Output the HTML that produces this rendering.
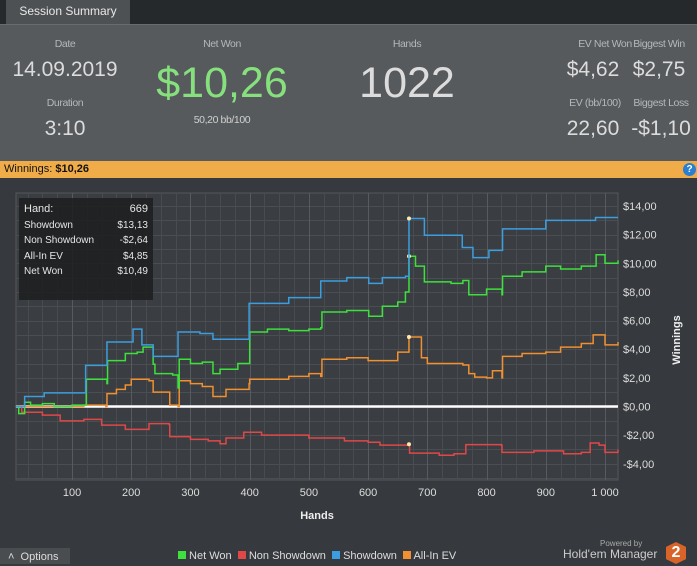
<!DOCTYPE html>
<html><head><meta charset="utf-8">
<style>
*{margin:0;padding:0;box-sizing:border-box}
body{width:697px;height:564px;overflow:hidden;background:#36393d;font-family:"Liberation Sans",sans-serif;position:relative}
.abs{position:absolute}
.lbl{color:#b5b7b9;font-size:10.5px;text-align:center;letter-spacing:-0.4px;white-space:nowrap}
.big{color:#dcdcdc;font-size:21px;text-align:center;white-space:nowrap}
</style></head><body>
<div class="abs" style="left:0;top:0;width:697px;height:24px;background:#26292c"></div>
<div class="abs" style="left:6px;top:0;width:124px;height:24px;background:#4e5154;color:#e8e8e8;font-size:12px;line-height:22px;text-align:center">Session Summary</div>
<div class="abs" style="left:0;top:24px;width:697px;height:137px;background:#575a5d;border-top:1px solid #6a6d70"></div>
<div class="abs lbl" style="left:15px;top:38px;width:100px">Date</div>
<div class="abs big" style="left:0;top:58px;width:130px">14.09.2019</div>
<div class="abs lbl" style="left:15px;top:97px;width:100px">Duration</div>
<div class="abs big" style="left:15px;top:117px;width:100px">3:10</div>
<div class="abs lbl" style="left:172px;top:38px;width:100px">Net Won</div>
<div class="abs" style="left:142px;top:59px;width:160px;text-align:center;color:#86e07e;font-size:43px">$10,26</div>
<div class="abs lbl" style="left:162px;top:114px;width:120px;color:#d0d0d0">50,20 bb/100</div>
<div class="abs lbl" style="left:357px;top:38px;width:100px">Hands</div>
<div class="abs" style="left:337px;top:59px;width:140px;text-align:center;color:#dcdcdc;font-size:43px">1022</div>
<div class="abs lbl" style="left:572px;top:38px;width:66px">EV Net Won</div>
<div class="abs big" style="left:562px;top:58px;width:62px">$4,62</div>
<div class="abs lbl" style="left:628px;top:38px;width:62px">Biggest Win</div>
<div class="abs big" style="left:628px;top:58px;width:62px">$2,75</div>
<div class="abs lbl" style="left:562px;top:97px;width:66px">EV (bb/100)</div>
<div class="abs big" style="left:562px;top:117px;width:62px">22,60</div>
<div class="abs lbl" style="left:628px;top:97px;width:66px">Biggest Loss</div>
<div class="abs big" style="left:628px;top:117px;width:66px">-$1,10</div>
<div class="abs" style="left:0;top:161px;width:697px;height:17px;background:#f0ac48;font-size:11px;line-height:17px;padding-left:4px;color:#111">Winnings: <b>$10,26</b></div>
<div class="abs" style="left:683px;top:163px;width:13px;height:13px;border-radius:50%;background:#2a7fd0;color:#fff;font-size:10px;font-weight:bold;text-align:center;line-height:13px">?</div>

<svg class="abs" style="left:0;top:0" width="697" height="564"></svg>

<div class="abs" style="left:19px;top:198px;width:134px;height:102px;background:rgba(28,29,31,0.85);color:#e6e6e6;font-size:10px;padding:4px 5px;line-height:15.5px">
<div style="display:flex;justify-content:space-between;font-size:11px"><span>Hand:</span><span>669</span></div>
<div style="display:flex;justify-content:space-between"><span>Showdown</span><span>$13,13</span></div>
<div style="display:flex;justify-content:space-between"><span>Non Showdown</span><span>-$2,64</span></div>
<div style="display:flex;justify-content:space-between"><span>All-In EV</span><span>$4,85</span></div>
<div style="display:flex;justify-content:space-between"><span>Net Won</span><span>$10,49</span></div>
</div>

<div class="abs" style="left:0;top:548px;width:70px;height:16px;background:#4a4d50;color:#ddd;font-size:11px;line-height:18px;padding-left:8px">&#708;&nbsp; Options</div>
<div class="abs" style="left:178px;top:550px;font-size:11px;color:#ddd;white-space:nowrap">
<span><span style="display:inline-block;width:8px;height:8px;background:#3de03d"></span> Net Won</span>&nbsp;
<span><span style="display:inline-block;width:8px;height:8px;background:#e04848"></span> Non Showdown</span>&nbsp;
<span><span style="display:inline-block;width:8px;height:8px;background:#3a9ee0"></span> Showdown</span>&nbsp;
<span><span style="display:inline-block;width:8px;height:8px;background:#f09030"></span> All-In EV</span>
</div>
<div class="abs" style="left:600px;top:539px;font-size:8px;color:#aaa">Powered by</div>
<div class="abs" style="left:563px;top:547px;font-size:12px;color:#ccc">Hold'em Manager</div>
<div class="abs" style="left:666px;top:542px;width:20px;height:22px;background:#d8642a;color:#fff;font-weight:bold;font-size:16px;text-align:center;line-height:22px;clip-path:polygon(50% 0,100% 22%,100% 78%,50% 100%,0 78%,0 22%)">2</div>

<script>
const xTicks=[100,200,300,400,500,600,700,800,900,1000];
const xTickLabels=["100","200","300","400","500","600","700","800","900","1 000"];
const yTicks=[-4,-2,0,2,4,6,8,10,12,14];
const yTickLabels=["-$4,00","-$2,00","$0,00","$2,00","$4,00","$6,00","$8,00","$10,00","$12,00","$14,00"];
const showdownHands=[5,20,53,123,159,203,218,237,279,316,338,399,466,520,564,601,624,663,669,695,759,777,804,827,900,984,1022];
const showdownVals=[0,0.7,0.95,2.87,4.5,5.4,4.3,3.5,5.2,5.1,4.7,7.2,7.6,8.76,9.0,8.6,9.0,9.1,13.13,11.96,11.1,10.4,10.9,12.4,13.0,13.2,13.2];
const netWonHands=[5,10,20,30,50,70,100,123,124,159,160,190,210,220,237,240,270,279,281,300,320,338,350,380,399,400,430,466,500,520,522,564,601,624,650,663,669,680,695,740,760,770,800,826,827,860,900,925,960,985,1000,1022];
const netWonVals=[0,-0.5,0.3,0.1,0.2,0,0.1,0.1,1.9,1.6,3.2,3.7,3.8,4.15,2.95,2.3,2.2,1.3,3.3,3.0,3.1,2.3,2.6,3.0,3.0,5.2,5.4,5.3,5.4,5.5,6.6,6.7,6.3,7.0,7.3,8.0,10.49,9.8,8.7,8.6,8.8,7.8,8.2,7.8,9.1,9.4,9.8,9.6,9.8,10.6,10.0,10.2];
const allInHands=[5,120,157,159,175,190,200,230,237,262,265,279,281,300,320,338,360,399,400,466,500,520,522,564,600,625,650,669,690,700,760,770,780,800,810,826,827,860,900,925,960,980,1000,1022];
const allInVals=[0,0.1,0,0.9,1.2,1.5,1.9,1.8,1.0,1.0,0.1,0,1.8,1.6,1.4,0.7,1.2,1.6,1.9,2.1,2.3,2.1,3.3,3.4,3.2,3.2,3.8,4.85,3.4,3.0,2.9,2.3,2.05,2.0,2.5,2.0,3.5,3.7,3.8,4.15,4.4,5.0,4.3,4.5];
const nonSdHands=[5,15,50,80,120,150,190,230,264,265,300,330,350,360,390,420,500,560,600,620,669,670,720,745,765,825,826,880,930,960,975,990,1000,1022];
const nonSdVals=[0,-0.4,-0.6,-1.0,-0.9,-1.3,-1.6,-1.2,-1.26,-2.1,-2.3,-2.4,-2.6,-2.2,-1.8,-2.0,-2.2,-2.4,-2.5,-2.7,-2.64,-3.26,-3.4,-3.3,-2.66,-2.7,-3.2,-3.1,-3.3,-3.2,-2.55,-2.7,-3.2,-3.0];

const svg=document.querySelector('svg');
const NS="http://www.w3.org/2000/svg";
const L=16,R=618,T=193,B=480;
const xs=h=>12.8+h*0.5922;
const ys=v=>406.5-v*14.32;
function mk(tag,attrs){const e=document.createElementNS(NS,tag);for(const k in attrs)e.setAttribute(k,attrs[k]);svg.appendChild(e);return e;}
const bg=mk('rect',{x:L,y:T,width:R-L,height:B-T,fill:'#3a3d41',stroke:'#55585c'});


for(let v=-5;v<=15;v+=1){const y=Math.round(ys(v))+0.5;if(y<T||y>B)continue;
 const g=mk('line',{x1:L,x2:R,y1:y,y2:y,stroke:'#4a4d51','stroke-width':1});
 
 }
for(let h=25;h<=1025;h+=25){const x=Math.round(xs(h))+0.5;if(x<L||x>R)continue;const major=h%100===0;
 const g=mk('line',{x1:x,x2:x,y1:T,y2:B,stroke:major?'#575a5e':'#484b4f','stroke-width':1});
 
 }
const zero=mk('line',{x1:L,x2:R,y1:ys(0),y2:ys(0),stroke:'#fff','stroke-width':2.5});


xTicks.forEach((h,i)=>{const t=mk('text',{x:xs(h),y:496,'text-anchor':'middle',fill:'#ddd','font-size':11,'font-family':'Liberation Sans'});t.textContent=xTickLabels[i];
 
 });
yTicks.forEach((v,i)=>{const t=mk('text',{x:623,y:ys(v)+4,fill:'#ddd','font-size':11,'font-family':'Liberation Sans'});t.textContent=yTickLabels[i];
 
 });
const xt=mk('text',{x:317,y:519,'text-anchor':'middle',fill:'#eee','font-size':11,'font-weight':'bold','font-family':'Liberation Sans'});xt.textContent='Hands';


const yt=mk('text',{x:0,y:0,'text-anchor':'middle',fill:'#eee','font-size':11,'font-weight':'bold','font-family':'Liberation Sans',transform:'translate(680,340) rotate(-90)'});yt.textContent='Winnings';


function series(hands,vals,color,name){
 let d='';hands.forEach((h,i)=>{const x=xs(h),y=ys(vals[i]);if(i===0)d+=`M${x},${y}`;else d+=`H${x}V${y}`;});
 const p=mk('path',{d:d,fill:'none',stroke:color,'stroke-width':1.5});
 
 
 const idx=hands.indexOf(669);
 if(idx>=0){const c=mk('circle',{cx:xs(669),cy:ys(vals[idx]),r:2,fill:'#ffe9b0'});
  
  }
}
series(nonSdHands,nonSdVals,'#e04848','non-showdown-line');
series(allInHands,allInVals,'#f09030','all-in-ev-line');
series(netWonHands,netWonVals,'#3de03d','net-won-line');
series(showdownHands,showdownVals,'#3a9ee0','showdown-line');
</script>
</body></html>
